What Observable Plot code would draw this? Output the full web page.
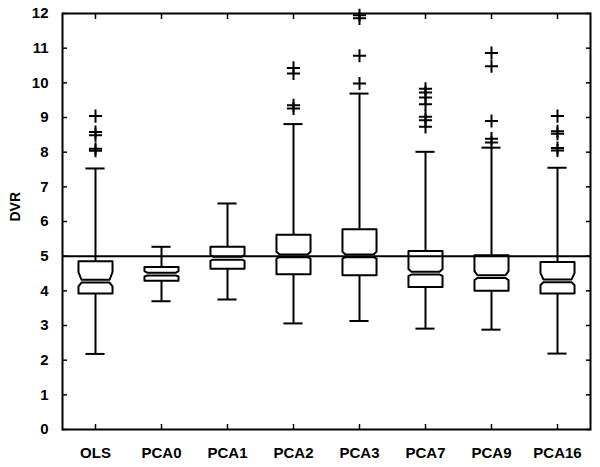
<!DOCTYPE html>
<html>
<head>
<meta charset="utf-8">
<script src="https://cdn.jsdelivr.net/npm/d3@7"></script>
<script src="https://cdn.jsdelivr.net/npm/@observablehq/plot@0.6"></script>
<style>
  html, body { margin: 0; padding: 0; background: #fff; }
  #chart svg { display: block; }
</style>
</head>
<body>
<div id="chart"></div>
<script>
// ---- data ----
const categories = ["OLS", "PCA0", "PCA1", "PCA2", "PCA3", "PCA7", "PCA9", "PCA16"];
const q1          = [3.92, 4.29, 4.64, 4.48, 4.45, 4.11, 4.00, 3.92];
const median      = [4.32, 4.52, 4.98, 5.05, 5.05, 4.55, 4.45, 4.33];
const q3          = [4.85, 4.69, 5.27, 5.62, 5.78, 5.15, 5.03, 4.83];
const whiskerLow  = [2.18, 3.70, 3.75, 3.06, 3.13, 2.91, 2.88, 2.19];
const whiskerHigh = [7.53, 5.27, 6.52, 8.81, 9.69, 8.01, 8.13, 7.55];
const notchSize   = [0.22, 0.05, 0.06, 0.08, 0.08, 0.08, 0.12, 0.18];

const outlierCategory = [
  "OLS", "OLS", "OLS", "OLS", "OLS",
  "PCA2", "PCA2", "PCA2", "PCA2",
  "PCA3", "PCA3", "PCA3", "PCA3",
  "PCA7", "PCA7", "PCA7", "PCA7", "PCA7", "PCA7", "PCA7",
  "PCA9", "PCA9", "PCA9", "PCA9", "PCA9",
  "PCA16", "PCA16", "PCA16", "PCA16", "PCA16"
];
const outlierValue = [
  9.04, 8.58, 8.49, 8.10, 8.04,
  10.43, 10.27, 9.35, 9.26,
  11.95, 11.86, 10.78, 9.98,
  9.83, 9.72, 9.58, 9.38, 9.02, 8.92, 8.73,
  10.86, 10.48, 8.90, 8.39, 8.28,
  9.04, 8.60, 8.53, 8.12, 8.05
];

const yTicks = [0, 1, 2, 3, 4, 5, 6, 7, 8, 9, 10, 11, 12];
const referenceValue = [5];
const yLabel = "DVR";

// ---- build tables for the marks ----
const idx = categories.map((_, i) => i);
const halfBox = 0.258;   // box half-width (x units)
const indent = 0.045;    // notch indentation (x units)
const gap = 0.08;        // gap below median line
const halfCap = 0.145;   // whisker cap half-width

const boxPts = [];
idx.forEach(i => {
  const L = i - halfBox, R = i + halfBox, m = median[i], c = notchSize[i];
  const upper = [
    [L, q3[i]], [R, q3[i]], [R, m + c], [R - indent, m], [L + indent, m], [L, m + c], [L, q3[i]]
  ];
  const lowerTop = m - gap;
  const cl = c * 0.5;
  const lower = [
    [L, q1[i]], [R, q1[i]], [R, lowerTop - cl], [R - indent, lowerTop], [L + indent, lowerTop], [L, lowerTop - cl], [L, q1[i]]
  ];
  upper.forEach(([x, y]) => boxPts.push({id: `u${i}`, x, y}));
  lower.forEach(([x, y]) => boxPts.push({id: `l${i}`, x, y}));
});

const whiskers = idx.flatMap(i => [
  {x: i, y1: q3[i], y2: whiskerHigh[i]},
  {x: i, y1: q1[i], y2: whiskerLow[i]}
]);
const caps = idx.flatMap(i => [
  {x1: i - halfCap, x2: i + halfCap, y: whiskerHigh[i]},
  {x1: i - halfCap, x2: i + halfCap, y: whiskerLow[i]}
]);
const outliers = outlierValue.map((v, k) => ({x: categories.indexOf(outlierCategory[k]), y: v}));

const chart = Plot.plot({
  width: 600,
  height: 467,
  marginLeft: 62,
  marginRight: 10,
  marginTop: 13,
  marginBottom: 38,
  style: {fontFamily: "'Liberation Sans', Arial, sans-serif", fontSize: "15px", fontWeight: "bold", color: "#000", background: "#fff"},
  x: {type: "linear", domain: [-0.5, categories.length - 0.5]},
  y: {domain: [0, 12]},
  marks: [
    Plot.axisY(yTicks, {anchor: "left", tickSize: -5, tickPadding: 19, strokeWidth: 1.5, label: null}),
    Plot.axisY(yTicks, {anchor: "right", tickSize: -5, strokeWidth: 1.5, fill: "none", label: null}),
    Plot.axisX(idx, {anchor: "top", tickSize: -5, strokeWidth: 1.5, fill: "none", label: null}),
    Plot.axisX(idx, {anchor: "bottom", tickSize: -5, tickPadding: 23, strokeWidth: 1.5, tickFormat: i => categories[i], label: null}),
    Plot.text([yLabel], {frameAnchor: "left", rotate: -90, dx: -47, fontSize: 14, fontWeight: "bold"}),
    Plot.ruleY(referenceValue, {strokeWidth: 2}),
    Plot.ruleX(whiskers, {x: "x", y1: "y1", y2: "y2", strokeWidth: 2}),
    Plot.ruleY(caps, {x1: "x1", x2: "x2", y: "y", strokeWidth: 2}),
    Plot.line(boxPts, {x: "x", y: "y", z: "id", strokeWidth: 2, strokeLinejoin: "round", curve: "linear"}),
    Plot.dot(outliers, {x: "x", y: "y", symbol: "plus", r: 4.3, stroke: "black", strokeWidth: 2}),
    Plot.frame({strokeWidth: 2})
  ]
});
document.getElementById("chart").appendChild(chart);
</script>
</body>
</html>
